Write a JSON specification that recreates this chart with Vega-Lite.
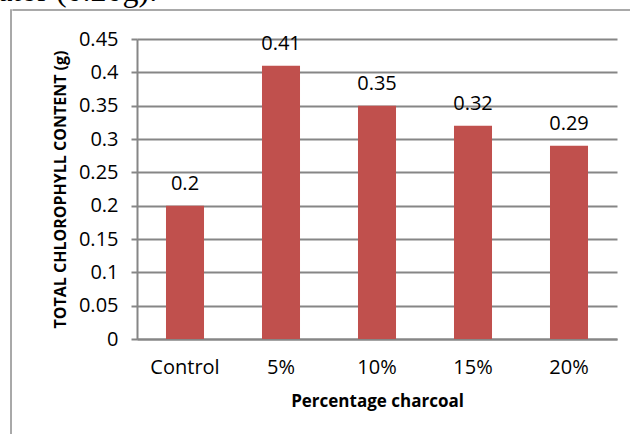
{
  "$schema": "https://vega.github.io/schema/vega-lite/v6.json",
  "autosize": "none",
  "padding": {"left": 11, "top": 10, "right": 619, "bottom": 424},
  "background": "white",
  "title": {
    "text": "tator (0.20g).",
    "font": "Liberation Serif",
    "fontSize": 32,
    "fontWeight": "normal",
    "color": "#000000",
    "anchor": "start",
    "frame": "bounds",
    "baseline": "alphabetic",
    "offset": 4,
    "dx": -21,
    "dy": 27.5
  },
  "spacing": 0,
  "hconcat": [
    {
      "width": 0.01,
      "height": 430,
      "data": {"values": []},
      "mark": {"type": "rule"},
      "encoding": {},
      "view": {"stroke": "#8c8c8c", "strokeWidth": 1.5}
    },
    {
      "spacing": 18,
      "center": true,
      "vconcat": [
        {
          "width": 727,
          "height": 0.01,
          "data": {"values": []},
          "mark": {"type": "rule"},
          "encoding": {},
          "view": {"stroke": "#8c8c8c", "strokeWidth": 1.5}
        },
        {
          "width": 480,
          "height": 300,
          "view": {"stroke": null},
          "data": {
            "values": [
              {"treatment": "Control", "chlorophyll": 0.2},
              {"treatment": "5%", "chlorophyll": 0.41},
              {"treatment": "10%", "chlorophyll": 0.35},
              {"treatment": "15%", "chlorophyll": 0.32},
              {"treatment": "20%", "chlorophyll": 0.29}
            ]
          },
          "encoding": {
            "x": {
              "field": "treatment",
              "type": "nominal",
              "sort": null,
              "scale": {"paddingInner": 0.604, "paddingOuter": 0.302},
              "axis": {
                "title": "Percentage charcoal",
                "labelAngle": 0,
                "labelFont": "Open Sans",
                "labelFontSize": 20,
                "labelColor": "#000000",
                "labelPadding": 18,
                "ticks": false,
                "domainColor": "#868686",
                "domainWidth": 2,
                "titleFont": "Open Sans",
                "titleFontSize": 17,
                "titleFontWeight": "bold",
                "titleColor": "#000000",
                "titlePadding": 16
              }
            },
            "y": {
              "field": "chlorophyll",
              "type": "quantitative",
              "scale": {"domain": [0, 0.45], "nice": false},
              "axis": {
                "title": "TOTAL CHLOROPHYLL CONTENT (g)",
                "values": [0, 0.05, 0.1, 0.15, 0.2, 0.25, 0.3, 0.35, 0.4, 0.45],
                "format": "~g",
                "labelFont": "Open Sans",
                "labelFontSize": 20,
                "labelColor": "#000000",
                "labelPadding": 13,
                "tickSize": 6,
                "tickColor": "#868686",
                "tickWidth": 2,
                "domainColor": "#868686",
                "domainWidth": 2,
                "gridColor": "#868686",
                "gridWidth": 2,
                "titleFont": "Open Sans",
                "titleFontSize": 16,
                "titleFontWeight": "bold",
                "titleColor": "#000000",
                "titlePadding": 10
              }
            }
          },
          "layer": [
            {"mark": {"type": "bar", "color": "#C0504D"}},
            {
              "mark": {
                "type": "text",
                "font": "Open Sans",
                "fontSize": 20,
                "color": "#000000",
                "baseline": "alphabetic",
                "dy": -16
              },
              "encoding": {"text": {"field": "chlorophyll", "type": "quantitative"}}
            }
          ]
        }
      ]
    }
  ]
}
